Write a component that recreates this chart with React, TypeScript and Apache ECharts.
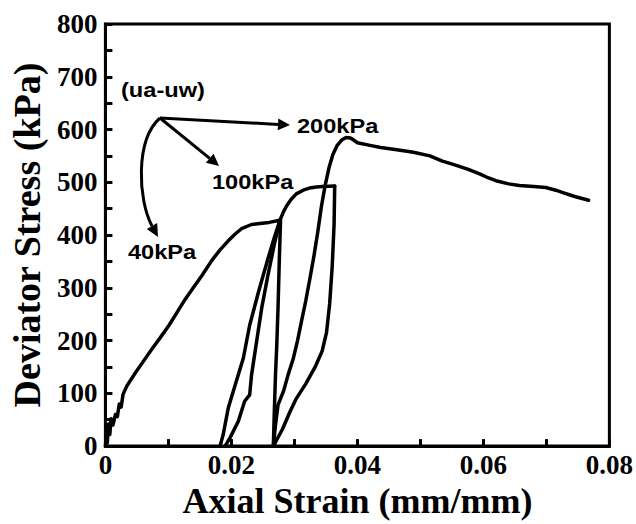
import React, { useEffect, useRef } from 'react';
import * as echarts from 'echarts';

// x = axial strain (mm/mm), y = deviator stress (kPa)
const load40kPa: [number, number][] = [
  [0, 0], [0.0002, 28], [0.0003, 6], [0.0005, 42], [0.0007, 22], [0.0009, 52], [0.0012, 40],
  [0.0016, 60], [0.0019, 56], [0.0022, 80], [0.0025, 74], [0.0028, 98], [0.0034, 114],
  [0.0046, 136], [0.0061, 162], [0.0075, 186], [0.0088, 207], [0.0101, 229], [0.0114, 254],
  [0.0127, 279], [0.014, 301], [0.0153, 323], [0.0169, 352], [0.0182, 372], [0.0195, 389],
  [0.0206, 402], [0.0216, 412], [0.0232, 420], [0.0245, 422], [0.026, 424], [0.0277, 428],
];
const unload40kPa: [number, number][] = [
  [0.0277, 428], [0.0269, 387], [0.0258, 324], [0.0248, 261], [0.024, 198], [0.0232, 135],
  [0.0229, 97], [0.0221, 85], [0.0211, 47], [0.0198, 16], [0.019, 0],
];
const reload40kPa: [number, number][] = [
  [0.0182, 0], [0.0187, 22], [0.0195, 72], [0.0206, 116], [0.0219, 167], [0.0229, 229],
  [0.0243, 292], [0.0258, 355], [0.0268, 395], [0.0277, 428],
];
const drop40kPa: [number, number][] = [
  [0.0278, 428], [0.0276, 350], [0.0274, 261], [0.0272, 190], [0.027, 135], [0.0268, 60], [0.02666, 0],
];
const load100kPa: [number, number][] = [
  [0.0277, 428], [0.0283, 445], [0.0288, 456], [0.0295, 468], [0.0303, 478], [0.0314, 485],
  [0.0324, 489], [0.0335, 491], [0.0345, 492], [0.0364, 493],
];
const unload100kPa: [number, number][] = [
  [0.0364, 493], [0.0363, 420], [0.036, 340], [0.0356, 270], [0.0351, 215], [0.0344, 180],
  [0.0333, 150], [0.0318, 118], [0.0303, 90], [0.0293, 65], [0.0281, 32], [0.02666, 0],
];
const load200kPa: [number, number][] = [
  [0.02666, 0], [0.027, 40], [0.0274, 78], [0.0278, 90], [0.0283, 105], [0.029, 135], [0.0298, 165],
  [0.0305, 200], [0.0311, 235], [0.0318, 275], [0.0325, 320], [0.0331, 360], [0.0337, 405],
  [0.0343, 455], [0.0349, 495], [0.0355, 528], [0.0361, 552], [0.0368, 570], [0.0375, 580],
  [0.0382, 585], [0.0389, 584], [0.0394, 580], [0.04, 575], [0.042, 570], [0.0437, 566],
  [0.046, 562], [0.0489, 557], [0.0515, 550], [0.0535, 540], [0.0552, 534], [0.0575, 525],
  [0.0594, 516], [0.0605, 510], [0.062, 503], [0.064, 497], [0.0657, 494], [0.068, 492],
  [0.0699, 490], [0.0715, 485], [0.0725, 481], [0.0745, 473], [0.0767, 466],
];

const xTickLabels = ['0', '0.02', '0.04', '0.06', '0.08'];
const yTickLabels = ['0', '100', '200', '300', '400', '500', '600', '700', '800'];
const annotationTitle = '(ua-uw)';
const suctionLabels = ['200kPa', '100kPa', '40kPa'];

const SERIF = '"Liberation Serif", "Times New Roman", serif';
const SANS = '"Liberation Sans", Arial, sans-serif';

export default function App() {
  const ref = useRef<HTMLDivElement>(null);
  useEffect(() => {
    const chart = echarts.init(ref.current!, null, { renderer: 'svg' });
    const segs = [load40kPa, unload40kPa, reload40kPa, drop40kPa, load100kPa, unload100kPa, load200kPa];
    const names = ['40kPa loading', '40kPa unloading', '40kPa reloading', '40kPa drop', '100kPa loading', '100kPa unloading', '200kPa loading'];
    const text = (t: string, x: number, y: number) => ({
      type: 'text', x, y, scaleX: 1.18,
      style: {
        text: t, fill: '#000', font: `bold 20px ${SANS}`,
        textAlign: 'left', textVerticalAlign: 'middle', align: 'left', verticalAlign: 'middle',
      },
    });
    const head = (pts: number[][]) => ({ type: 'polygon', shape: { points: pts }, style: { fill: '#000' } });
    chart.setOption({
      animation: false,
      backgroundColor: '#fff',
      grid: { left: 103, right: 25, top: 24, bottom: 76, show: true, borderColor: '#000', borderWidth: 3, backgroundColor: 'transparent' },
      xAxis: {
        type: 'value', min: 0, max: 0.08, interval: 0.02,
        name: 'Axial Strain (mm/mm)', nameLocation: 'middle', nameGap: 32,
        nameTextStyle: { fontFamily: SERIF, fontWeight: 'bold', fontSize: 36, color: '#000' },
        axisLine: { show: true, lineStyle: { color: '#000', width: 3 } },
        axisTick: { show: true, inside: true, length: 7, lineStyle: { color: '#000', width: 3 } },
        minorTick: { show: true, splitNumber: 2, length: 7, lineStyle: { color: '#000', width: 3 } },
        splitLine: { show: false },
        axisLabel: {
          margin: 5, color: '#000', fontFamily: SERIF, fontWeight: 'bold', fontSize: 27,
          formatter: (v: number) => xTickLabels[Math.round(v / 0.02)] ?? '',
        },
      },
      yAxis: {
        type: 'value', min: 0, max: 800, interval: 100,
        name: 'Deviator Stress (kPa)', nameLocation: 'middle', nameGap: 59,
        nameTextStyle: { fontFamily: SERIF, fontWeight: 'bold', fontSize: 38, color: '#000' },
        axisLine: { show: true, lineStyle: { color: '#000', width: 3 } },
        axisTick: { show: true, inside: true, length: 7, lineStyle: { color: '#000', width: 3 } },
        minorTick: { show: true, splitNumber: 2, length: 7, lineStyle: { color: '#000', width: 3 } },
        splitLine: { show: false },
        axisLabel: {
          margin: 8, color: '#000', fontFamily: SERIF, fontWeight: 'bold', fontSize: 27,
          formatter: (v: number) => yTickLabels[Math.round(v / 100)] ?? '',
        },
      },
      series: segs.map((d, i) => ({
        name: names[i], type: 'line', data: d, showSymbol: false, symbol: 'none',
        lineStyle: { color: '#000', width: 3.5, join: 'round', cap: 'round' },
        clip: false,
      })),
      graphic: [
        text(annotationTitle, 121, 90),
        text(suctionLabels[0], 297, 126),
        text(suctionLabels[1], 212, 182),
        text(suctionLabels[2], 128, 252),
        { type: 'line', shape: { x1: 160, y1: 118, x2: 278, y2: 124.4 }, style: { stroke: '#000', lineWidth: 3 } },
        head([[290, 125], [277.7, 130.3], [278.3, 118.4]]),
        { type: 'line', shape: { x1: 160, y1: 118, x2: 209.7, y2: 158.4 }, style: { stroke: '#000', lineWidth: 3 } },
        head([[219, 166], [205.8, 162.8], [213.6, 153.8]]),
        { type: 'bezierCurve', shape: { x1: 160, y1: 118, cpx1: 135, cpy1: 140, cpx2: 138, cpy2: 200, x2: 152, y2: 226 }, style: { stroke: '#000', lineWidth: 3, fill: 'none' } },
        head([[158, 237], [146.8, 229], [157.2, 223]]),
      ],
    });
    return () => chart.dispose();
  }, []);
  return <div ref={ref} style={{ position: 'fixed', left: 0, top: 0, width: 636, height: 524, background: '#fff' }} />;
}
